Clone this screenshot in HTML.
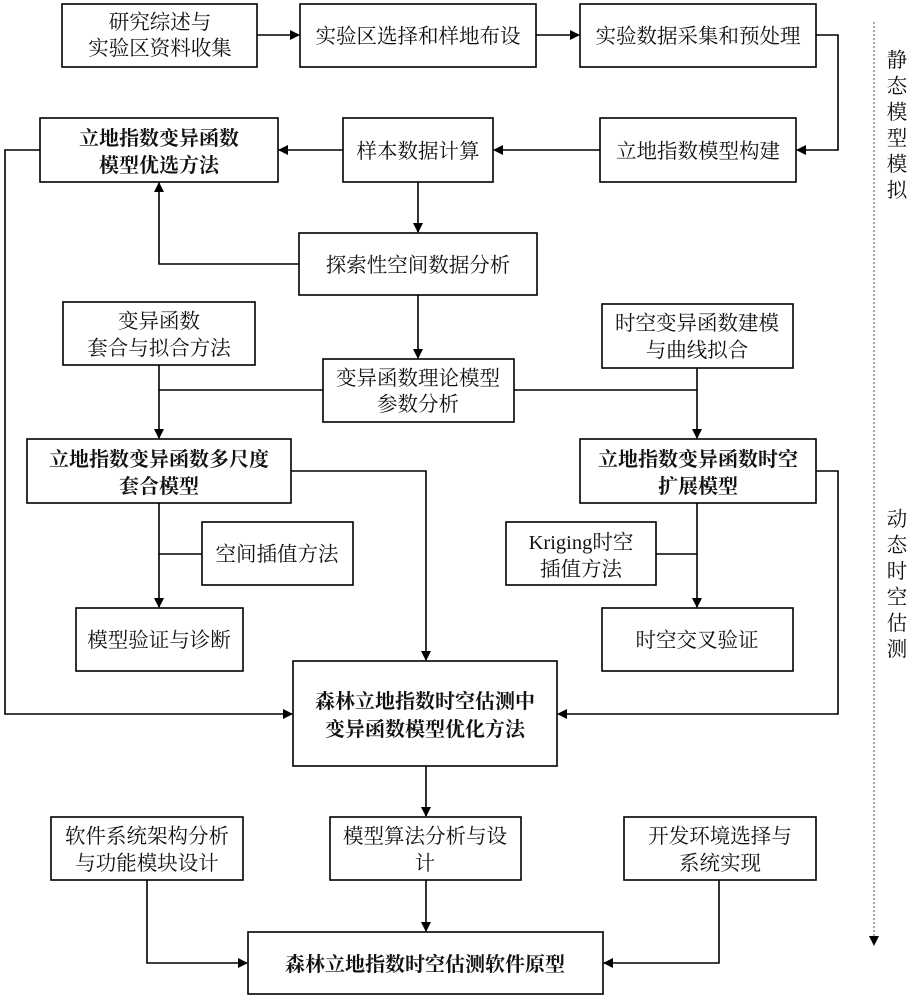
<!DOCTYPE html>
<html><head><meta charset="utf-8"><style>
html,body{margin:0;padding:0;background:#fff;}
svg text{font-family:"Liberation Serif","Noto Serif CJK SC",serif;font-size:20.5px;fill:#111;text-anchor:middle;}
svg text.b{font-weight:bold;font-size:20px;}
</style></head><body>
<svg width="914" height="1000" viewBox="0 0 914 1000" xmlns="http://www.w3.org/2000/svg">
<defs>
<marker id="a" markerWidth="10" markerHeight="10" refX="9" refY="5" orient="auto" markerUnits="userSpaceOnUse">
<path d="M0,0 L10,5 L0,10 z" fill="#000"/></marker>
</defs>
<g fill="none" stroke="#000" stroke-width="1.6">
<line x1="257" y1="35" x2="299" y2="35" marker-end="url(#a)"/>
<line x1="536" y1="35" x2="579" y2="35" marker-end="url(#a)"/>
<polyline points="816,35 838,35 838,150 797,150" marker-end="url(#a)"/>
<line x1="600" y1="150" x2="494" y2="150" marker-end="url(#a)"/>
<line x1="343" y1="150" x2="279" y2="150" marker-end="url(#a)"/>
<polyline points="40,150 5,150 5,714 292,714" marker-end="url(#a)"/>
<line x1="418" y1="182" x2="418" y2="232" marker-end="url(#a)"/>
<polyline points="299,264 159,264 159,183" marker-end="url(#a)"/>
<line x1="418" y1="295" x2="418" y2="358" marker-end="url(#a)"/>
<line x1="159" y1="390" x2="697" y2="390"/>
<line x1="159" y1="365" x2="159" y2="438" marker-end="url(#a)"/>
<line x1="697" y1="368" x2="697" y2="438" marker-end="url(#a)"/>
<polyline points="291,471 426,471 426,660" marker-end="url(#a)"/>
<polyline points="816,471 838,471 838,714 558,714" marker-end="url(#a)"/>
<line x1="159" y1="503" x2="159" y2="607" marker-end="url(#a)"/>
<line x1="159" y1="554" x2="202" y2="554"/>
<line x1="697" y1="503" x2="697" y2="607" marker-end="url(#a)"/>
<line x1="656" y1="554" x2="697" y2="554"/>
<line x1="426" y1="766" x2="426" y2="816" marker-end="url(#a)"/>
<line x1="426" y1="880" x2="426" y2="931" marker-end="url(#a)"/>
<polyline points="147,880 147,963 247,963" marker-end="url(#a)"/>
<polyline points="719,880 719,963 604,963" marker-end="url(#a)"/>
</g>
<line x1="874" y1="22" x2="874" y2="938" stroke="#555" stroke-width="1" stroke-dasharray="2,2"/>
<path d="M869,936 L879,936 L874,946 z" fill="#000"/>
<g fill="#fff" stroke="#000" stroke-width="1.6">
<rect x="62" y="4" width="195" height="63"/>
<rect x="300" y="4" width="236" height="63"/>
<rect x="580" y="4" width="236" height="63"/>
<rect x="40" y="118" width="238" height="64"/>
<rect x="343" y="118" width="150" height="64"/>
<rect x="600" y="118" width="196" height="64"/>
<rect x="299" y="233" width="238" height="62"/>
<rect x="63" y="302" width="192" height="63"/>
<rect x="323" y="359" width="191" height="63"/>
<rect x="602" y="304" width="191" height="64"/>
<rect x="27" y="439" width="264" height="64"/>
<rect x="580" y="439" width="236" height="64"/>
<rect x="202" y="522" width="151" height="63"/>
<rect x="506" y="522" width="150" height="63"/>
<rect x="76" y="608" width="167" height="63"/>
<rect x="602" y="608" width="191" height="63"/>
<rect x="293" y="661" width="264" height="105"/>
<rect x="51" y="817" width="192" height="63"/>
<rect x="330" y="817" width="191" height="63"/>
<rect x="624" y="817" width="192" height="63"/>
<rect x="248" y="932" width="355" height="62"/>
</g>
<text x="160" y="29">研究综述与</text><text x="160" y="55">实验区资料收集</text>
<text x="418" y="43">实验区选择和样地布设</text>
<text x="698" y="43">实验数据采集和预处理</text>
<text class="b" x="159" y="145">立地指数变异函数</text><text class="b" x="159" y="172">模型优选方法</text>
<text x="418" y="158">样本数据计算</text>
<text x="698" y="158">立地指数模型构建</text>
<text x="418" y="272">探索性空间数据分析</text>
<text x="159" y="328">变异函数</text><text x="159" y="355">套合与拟合方法</text>
<text x="418" y="385">变异函数理论模型</text><text x="418" y="411">参数分析</text>
<text x="697" y="330">时空变异函数建模</text><text x="697" y="357">与曲线拟合</text>
<text class="b" x="159" y="466">立地指数变异函数多尺度</text><text class="b" x="159" y="493">套合模型</text>
<text class="b" x="698" y="466">立地指数变异函数时空</text><text class="b" x="698" y="493">扩展模型</text>
<text x="277" y="561">空间插值方法</text>
<text x="581" y="549">Kriging时空</text><text x="581" y="576">插值方法</text>
<text x="159" y="647">模型验证与诊断</text>
<text x="697" y="647">时空交叉验证</text>
<text class="b" x="425" y="708">森林立地指数时空估测中</text><text class="b" x="425" y="736">变异函数模型优化方法</text>
<text x="147" y="843">软件系统架构分析</text><text x="147" y="870">与功能模块设计</text>
<text x="425" y="843">模型算法分析与设</text><text x="425" y="870">计</text>
<text x="720" y="843">开发环境选择与</text><text x="720" y="870">系统实现</text>
<text class="b" x="425" y="971">森林立地指数时空估测软件原型</text>
<g>
<text x="897" y="67">静</text><text x="897" y="93">态</text><text x="897" y="119">模</text><text x="897" y="145">型</text><text x="897" y="171">模</text><text x="897" y="197">拟</text>
<text x="897" y="526">动</text><text x="897" y="552">态</text><text x="897" y="578">时</text><text x="897" y="604">空</text><text x="897" y="630">估</text><text x="897" y="656">测</text>
</g>
</svg>
</body></html>
